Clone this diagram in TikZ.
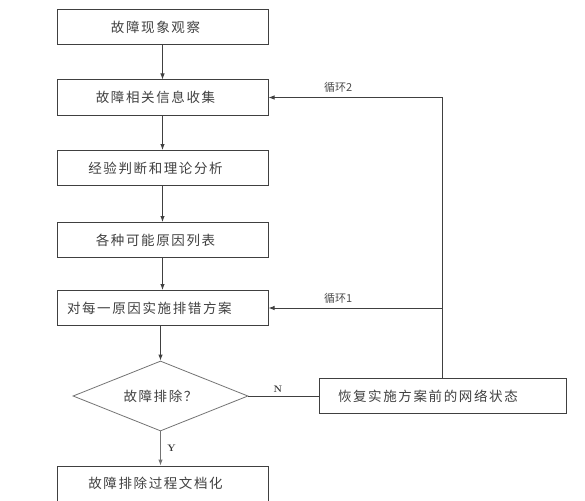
\documentclass[tikz,border=0pt]{standalone}
\usepackage{fontspec}
\newfontfamily\cjk[LetterSpace=12]{Noto Sans CJK SC}
\newfontfamily\cjktight{Noto Sans CJK SC}
\usetikzlibrary{shapes.geometric,arrows.meta}

\begin{document}
\begin{tikzpicture}[x=1pt,y=-1pt, % pixel grid, y downwards
  bx/.style={draw=black!75, line width=1pt, minimum width=211pt, minimum height=35pt,
    inner sep=0pt, font=\cjk\fontsize{13.5}{14}\selectfont, text=black!75},
  dec/.style={draw=black!55, line width=0.8pt, diamond, aspect=2.5, minimum width=175pt,
    minimum height=70pt, inner sep=0pt, font=\cjk\fontsize{13.5}{14}\selectfont, text=black!75},
  lbl/.style={font=\cjktight\fontsize{11}{11}\selectfont, text=black!70},
  yn/.style={font=\rmfamily\bfseries\fontsize{9.5}{9.5}\selectfont, text=black!80},
  ln/.style={draw=black!75, line width=1pt},
  arr/.style={ln, -{Latex[length=6pt,width=4.5pt]}}]
\useasboundingbox (0,0) rectangle (585,500);
\clip (0,0) rectangle (585,500);

% Main column
\node[bx] (obs) at (162.5,27.5) {\hspace*{-14pt}故障现象观察};
\node[bx] (info) at (162.5,97.5) {\hspace*{-14pt}故障相关信息收集};
\node[bx] (judge) at (162.5,168) {\hspace*{-14pt}经验判断和理论分析};
\node[bx] (list) at (162.5,240) {\hspace*{-14pt}各种可能原因列表};
\node[bx, text width=191pt, inner xsep=10pt, align=left] (plan) at (162.5,308) {对每一原因实施排错方案};
\node[dec] (ok) at (160.5,396) {故障排除？};
\node[bx] (doc) at (162.5,483.5) {\hspace*{-14pt}故障排除过程文档化};

% Side box
\node[bx, minimum width=247pt, text width=209pt, inner xsep=19pt, align=left] (back) at (442.5,396) {恢复实施方案前的网络状态};
\coordinate (up2) at (back.north |- info.east);
\coordinate (up1) at (back.north |- plan.east);

% Connectors
\draw[arr] (obs) -- (info);
\draw[arr] (info) -- (judge);
\draw[arr] (judge) -- (list);
\draw[arr] (list) -- (plan);
\draw[arr] (plan.south -| ok.north) -- (ok);
\draw[arr, draw=black!55] (ok) -- node[yn, right, xshift=3pt] {Y} (ok.south |- doc.north);
\draw[ln] (ok.east) -- node[yn, above, pos=0.42] {N} (back.west);
\draw[ln] (back.north) -- (up2);
\draw[arr] (up2) -- node[lbl, above, pos=0.6, yshift=1pt] {循环2} (info.east);
\draw[arr] (up1) -- node[lbl, above, pos=0.6, yshift=1pt] {循环1} (plan.east);

\end{tikzpicture}
\end{document}
